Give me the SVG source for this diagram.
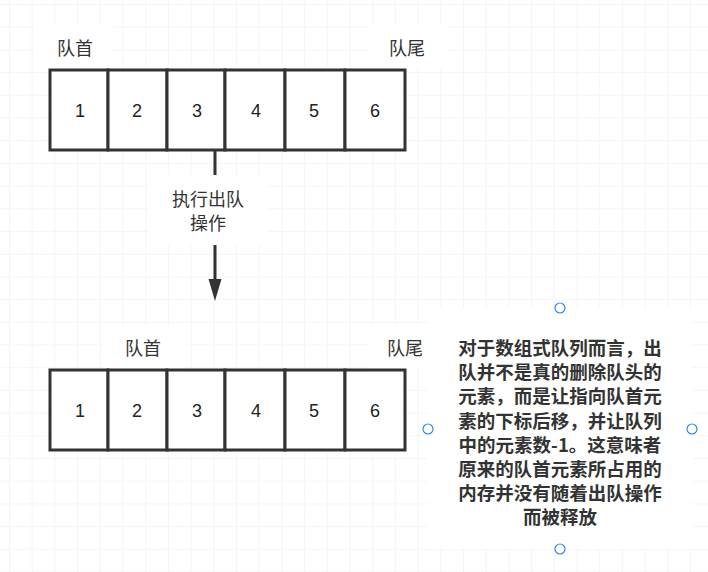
<svg xmlns="http://www.w3.org/2000/svg" width="708" height="572" viewBox="0 0 708 572">
<defs>
<pattern id="g" x="9" y="4" width="22.7" height="22.7" patternUnits="userSpaceOnUse">
<path d="M0 0H22.7M0 0V22.7" fill="none" stroke="#ebebeb" stroke-width="1"/>
</pattern>
</defs>
<style>
.c{fill:#fff;stroke:#333;stroke-width:3}
.n{font-family:"Liberation Sans",Arial,sans-serif;font-size:18px;fill:#222;text-anchor:middle;dominant-baseline:central}
.l{font-family:"Noto Sans CJK SC",sans-serif;font-size:18px;fill:#333;text-anchor:middle;dominant-baseline:central}
.b{font-family:"Noto Sans CJK SC",sans-serif;font-size:18.5px;font-weight:bold;fill:#333;text-anchor:middle;dominant-baseline:central}
.h{fill:#fff;stroke:#2a8cf0;stroke-width:1.2}
</style>
<rect width="708" height="572" fill="#fff"/>
<rect width="708" height="572" fill="url(#g)"/>
<g id="top-labels">
<rect x="35" y="25" width="78" height="44" fill="#fff"/>
<text class="l" x="75" y="47">队首</text>
<rect x="370" y="25" width="78" height="44" fill="#fff"/>
<text class="l" x="407" y="47">队尾</text>
</g>
<g id="top-queue">
<rect class="c" x="50" y="70" width="58" height="80"/><text class="n" x="80" y="111">1</text>
<rect class="c" x="108" y="70" width="59" height="80"/><text class="n" x="137" y="111">2</text>
<rect class="c" x="167" y="70" width="58" height="80"/><text class="n" x="197" y="111">3</text>
<rect class="c" x="225" y="70" width="60" height="80"/><text class="n" x="256" y="111">4</text>
<rect class="c" x="285" y="70" width="60" height="80"/><text class="n" x="314" y="111">5</text>
<rect class="c" x="345" y="70" width="60" height="80"/><text class="n" x="375" y="111">6</text>
</g>
<g id="connectors">
<line x1="215" y1="150" x2="215" y2="282" stroke="#333" stroke-width="3"/>
<path d="M208.5 279L221.5 279L215 301Z" fill="#333"/>
<rect x="148" y="175" width="120" height="70" fill="#fff"/>
<text class="l" x="208" y="198">执行出队</text>
<text class="l" x="208" y="222">操作</text>
</g>
<g id="bottom-labels">
<rect x="103" y="325" width="80" height="44" fill="#fff"/>
<text class="l" x="143" y="347">队首</text>
<rect x="368" y="325" width="60" height="44" fill="#fff"/>
<text class="l" x="405" y="347">队尾</text>
</g>
<g id="bottom-queue">
<rect class="c" x="50" y="370" width="58" height="80"/><text class="n" x="80" y="411">1</text>
<rect class="c" x="108" y="370" width="59" height="80"/><text class="n" x="137" y="411">2</text>
<rect class="c" x="167" y="370" width="58" height="80"/><text class="n" x="197" y="411">3</text>
<rect class="c" x="225" y="370" width="60" height="80"/><text class="n" x="256" y="411">4</text>
<rect class="c" x="285" y="370" width="60" height="80"/><text class="n" x="314" y="411">5</text>
<rect class="c" x="345" y="370" width="60" height="80"/><text class="n" x="375" y="411">6</text>
</g>
<g id="note">
<rect x="428" y="308" width="264" height="241" fill="#fff"/>
<text class="b" x="560" y="347">对于数组式队列而言，出</text>
<text class="b" x="560" y="371">队并不是真的删除队头的</text>
<text class="b" x="560" y="395">元素，而是让指向队首元</text>
<text class="b" x="560" y="420">素的下标后移，并让队列</text>
<text class="b" x="560" y="444">中的元素数-1。这意味者</text>
<text class="b" x="560" y="468">原来的队首元素所占用的</text>
<text class="b" x="560" y="492">内存并没有随着出队操作</text>
<text class="b" x="560" y="516">而被释放</text>
<circle class="h" cx="560" cy="308" r="5"/>
<circle class="h" cx="428" cy="429" r="5"/>
<circle class="h" cx="692" cy="429" r="5"/>
<circle class="h" cx="560" cy="549" r="5"/>
</g>
</svg>
